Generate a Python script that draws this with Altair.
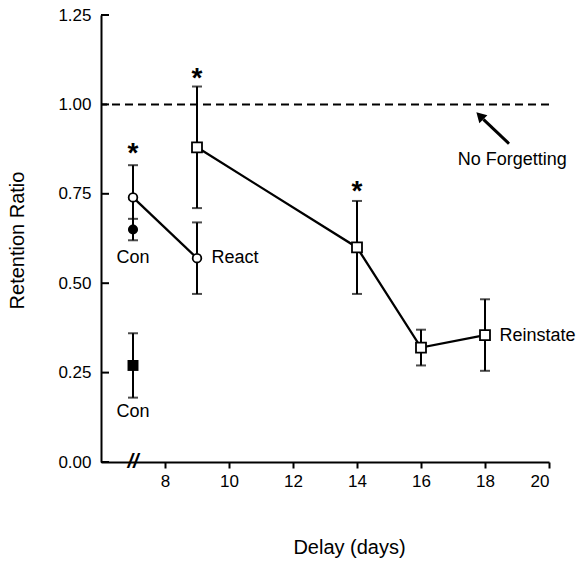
import altair as alt
import pandas as pd

# ---- data ----
react_x = [7, 9]
react_y = [0.74, 0.57]
react_err = [0.09, 0.10]

reinstate_x = [9, 14, 16, 18]
reinstate_y = [0.88, 0.60, 0.32, 0.355]
reinstate_err = [0.17, 0.13, 0.05, 0.10]

con_react_x = [7]
con_react_y = [0.65]
con_react_err = [0.03]

con_reinstate_x = [7]
con_reinstate_y = [0.27]
con_reinstate_err = [0.09]

star_x = [7, 9, 14]
star_y = [0.88, 1.09, 0.775]

no_forgetting = [1.0]

x_ticks = [8, 10, 12, 14, 16, 18, 20]
y_ticks = [0.0, 0.25, 0.5, 0.75, 1.0, 1.25]

label_text = ["Con", "React", "Con", "Reinstate", "No Forgetting"]
label_x = [7, 9.45, 7, 18.45, 18.85]
label_y = [0.57, 0.57, 0.14, 0.352, 0.845]
label_align = ["center", "left", "center", "left", "center"]

arrow_x = [18.75, 17.95]
arrow_y = [0.89, 0.958]
arrow_head_x = [17.84]
arrow_head_y = [0.968]

break_x = [7]
break_y = [0.0]

FONT = "Liberation Sans"

# ---- tables ----
def series(xs, ys, es, group):
    return pd.DataFrame({
        "x": xs, "y": ys,
        "lo": [y - e for y, e in zip(ys, es)],
        "hi": [y + e for y, e in zip(ys, es)],
        "group": group,
    })

df_react = series(react_x, react_y, react_err, "react")
df_rein = series(reinstate_x, reinstate_y, reinstate_err, "reinstate")
df_cr = series(con_react_x, con_react_y, con_react_err, "con_react")
df_cs = series(con_reinstate_x, con_reinstate_y, con_reinstate_err, "con_rein")
df_all = pd.concat([df_react, df_rein, df_cr, df_cs], ignore_index=True)
df_lines = pd.concat([df_react, df_rein], ignore_index=True)

df_star = pd.DataFrame({"x": star_x, "y": star_y})
df_nf = pd.DataFrame({"y": no_forgetting})
df_ytk = pd.DataFrame({"y": y_ticks})
df_lab = pd.DataFrame({"x": label_x, "y": label_y, "t": label_text, "a": label_align})
df_arrow = pd.DataFrame({"x": arrow_x, "y": arrow_y})
df_head = pd.DataFrame({"x": arrow_head_x, "y": arrow_head_y})
df_break = pd.DataFrame({"x": break_x, "y": break_y})

xs = alt.Scale(domain=[6, 20], nice=False, zero=False)
ys = alt.Scale(domain=[0, 1.25], nice=False)

X = alt.X("x:Q", scale=xs, axis=alt.Axis(
    values=x_ticks, title="Delay (days)", grid=False, tickSize=6,
    labelPadding=5, labelFontSize=17, titleFontSize=20, titleFontWeight="normal",
    titleX=248, titleY=91, titleBaseline="alphabetic", titleAlign="center",
    domainWidth=2, tickWidth=2, domainColor="black", tickColor="black",
    labelColor="black", titleColor="black", labelFont=FONT, titleFont=FONT))
Y = alt.Y("y:Q", scale=ys, axis=alt.Axis(
    values=y_ticks, format=".2f", title="Retention Ratio", grid=False,
    tickSize=0, ticks=False, labelPadding=10, labelFontSize=17,
    titleFontSize=20, titleFontWeight="normal",
    titleX=-78, titleY=225, titleBaseline="alphabetic", titleAlign="center",
    domainWidth=2, domainColor="black", labelColor="black", titleColor="black",
    labelFont=FONT, titleFont=FONT))

base = alt.Chart(df_all)

dashed = alt.Chart(df_nf).mark_rule(color="black", strokeWidth=2, strokeDash=[8, 5]).encode(
    y=alt.Y("y:Q", scale=ys))

inward_ticks = alt.Chart(df_ytk).mark_rule(color="black", strokeWidth=2).encode(
    y=alt.Y("y:Q", scale=ys), x=alt.value(0), x2=alt.value(8))

lines = alt.Chart(df_lines).mark_line(color="black", strokeWidth=2.3).encode(
    x=X, y=Y, detail="group:N")

err = base.mark_rule(color="black", strokeWidth=2).encode(
    x=alt.X("x:Q", scale=xs), y=alt.Y("lo:Q", scale=ys), y2="hi:Q")
cap_hi = base.mark_tick(color="black", orient="horizontal", size=10, thickness=2).encode(
    x=alt.X("x:Q", scale=xs), y=alt.Y("hi:Q", scale=ys))
cap_lo = base.mark_tick(color="black", orient="horizontal", size=10, thickness=2).encode(
    x=alt.X("x:Q", scale=xs), y=alt.Y("lo:Q", scale=ys))

open_c = alt.Chart(df_react).mark_point(shape="circle", size=75, filled=True, fill="white",
                                         stroke="black", strokeWidth=1.8, opacity=1).encode(
    x=alt.X("x:Q", scale=xs), y=alt.Y("y:Q", scale=ys))
open_s = alt.Chart(df_rein).mark_point(shape="square", size=100, filled=True, fill="white",
                                        stroke="black", strokeWidth=1.8, opacity=1).encode(
    x=alt.X("x:Q", scale=xs), y=alt.Y("y:Q", scale=ys))
fill_c = alt.Chart(df_cr).mark_point(shape="circle", size=100, filled=True, color="black", opacity=1).encode(
    x=alt.X("x:Q", scale=xs), y=alt.Y("y:Q", scale=ys))
fill_s = alt.Chart(df_cs).mark_point(shape="square", size=120, filled=True, color="black", opacity=1).encode(
    x=alt.X("x:Q", scale=xs), y=alt.Y("y:Q", scale=ys))

stars = alt.Chart(df_star).mark_text(text="*", font=FONT, fontSize=28, fontWeight="bold",
                                      baseline="alphabetic", dy=15, color="black").encode(
    x=alt.X("x:Q", scale=xs), y=alt.Y("y:Q", scale=ys))

labels_c = alt.Chart(df_lab[df_lab.a == "center"]).mark_text(
    font=FONT, fontSize=18, align="center", baseline="middle", color="black").encode(
    x=alt.X("x:Q", scale=xs), y=alt.Y("y:Q", scale=ys), text="t:N")
labels_l = alt.Chart(df_lab[df_lab.a == "left"]).mark_text(
    font=FONT, fontSize=18, align="left", baseline="middle", color="black").encode(
    x=alt.X("x:Q", scale=xs), y=alt.Y("y:Q", scale=ys), text="t:N")

arrow = alt.Chart(df_arrow).mark_line(color="black", strokeWidth=3).encode(
    x=alt.X("x:Q", scale=xs), y=alt.Y("y:Q", scale=ys))
head = alt.Chart(df_head).mark_point(shape="triangle-up", size=130, angle=315, filled=True,
                                     color="black", opacity=1).encode(
    x=alt.X("x:Q", scale=xs), y=alt.Y("y:Q", scale=ys))

brk = alt.Chart(df_break).mark_text(text="//", font=FONT, fontSize=20, fontWeight="bold",
                                     fontStyle="italic", baseline="middle", align="center",
                                     color="black").encode(
    x=alt.X("x:Q", scale=xs), y=alt.Y("y:Q", scale=ys))

chart = alt.layer(
    lines, dashed, inward_ticks, err, cap_hi, cap_lo, open_c, open_s, fill_c, fill_s,
    stars, labels_c, labels_l, arrow, head, brk
).properties(
    width=448, height=447,
    padding={"left": 101, "top": 15, "right": 30, "bottom": 99},
    autosize=alt.AutoSizeParams(type="none"),
    background="white",
).configure_view(stroke=None)

chart.save("out.html", embed_options={"renderer": "svg", "actions": False})
